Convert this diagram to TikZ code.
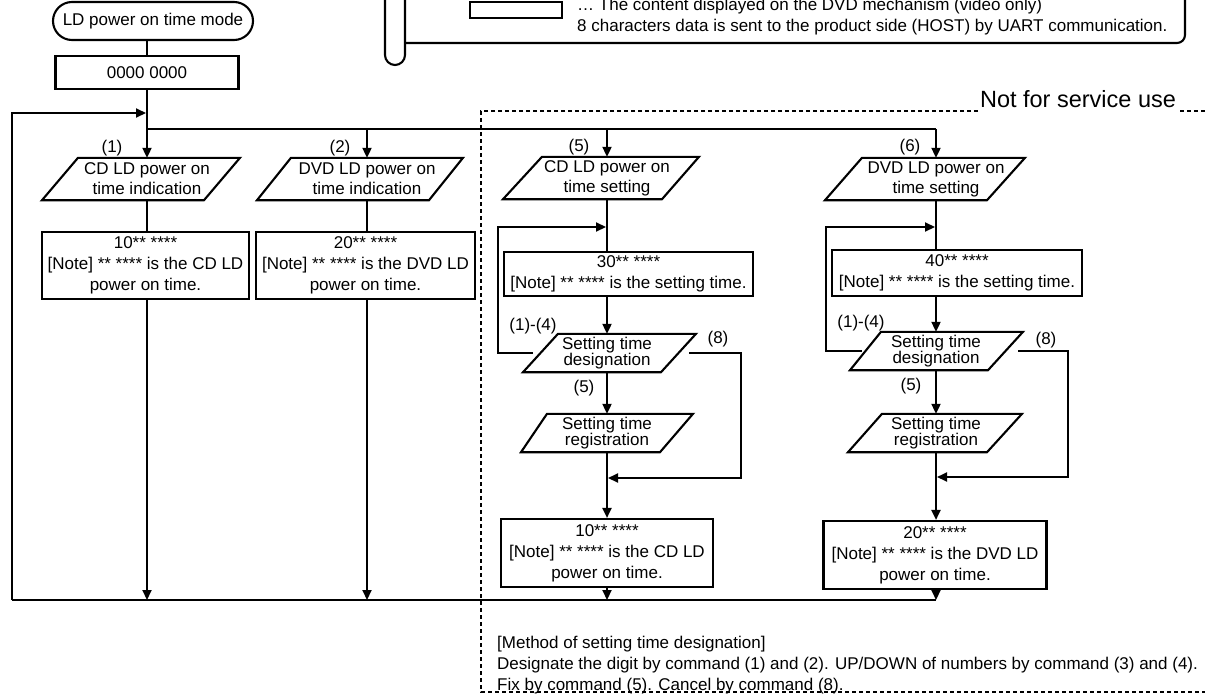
\documentclass[tikz,border=0pt]{standalone}
\usepackage{fontspec}
\setmainfont{Liberation Sans}
\usetikzlibrary{arrows.meta}
\begin{document}
\begin{tikzpicture}[x=1pt,y=-1pt,
  every node/.style={font=\fontsize{17}{21}\selectfont, inner sep=0pt},
  ln/.style={line width=2.1pt},
  arr/.style={line width=2.1pt,-{Triangle[length=10pt,width=9pt]}},
  box/.style={draw,line width=2.1pt,align=center},
  txt/.style={align=center,font=\fontsize{17}{20}\selectfont},
  txts/.style={align=center,font=\fontsize{17}{16}\selectfont},
  para/.style={line width=2.1pt},
  dsh/.style={line width=2.2pt,dash pattern=on 4pt off 3pt},
]
\useasboundingbox (0,0) rectangle (1205,696);
\clip (0,0) rectangle (1205,696);

% ---- legend frame (top, cropped) ----
\draw[ln] (385,-10) [rounded corners=10pt] -- (385,65) -- (405,65) [sharp corners] -- (405,-10);
\draw[ln, rounded corners=8pt] (405,43) -- (1185,43) -- (1185,-10);
\draw[ln] (470,2) rectangle (562,18);
\node[anchor=base west] (lg1) at (577,10) {\ldots\ The content displayed on the DVD mechanism (video only)};
\node[anchor=base west] (lg2) at (577,31) {8 characters data is sent to the product side (HOST) by UART communication.};

% ---- top nodes ----
\node[box, rounded corners=19pt, minimum width=200pt, minimum height=38pt] (start) at (153,21) {LD power on time mode};
\node[box, minimum width=183pt, minimum height=33pt] (b0) at (147,72.5) {0000 0000};

% ---- columns 1,2 ----
\node[txt, minimum height=42pt] (p1) at (147,179) {CD LD power on\\time indication};
\draw[para] ([xshift=-69pt]p1.north) -- ([xshift=93pt]p1.north) -- ([xshift=57pt]p1.south) -- ([xshift=-105pt]p1.south) -- cycle;
\node[txt, minimum height=42pt] (p2) at (367,179) {DVD LD power on\\time indication};
\draw[para] ([xshift=-76pt]p2.north) -- ([xshift=96pt]p2.north) -- ([xshift=62pt]p2.south) -- ([xshift=-110pt]p2.south) -- cycle;

\node[box, minimum width=207pt, minimum height=67pt] (box1) at (145.5,265.5) {10** ****\\{}[Note] ** **** is the CD LD\\power on time.};
\node[box, minimum width=219pt, minimum height=67pt] (box2) at (365.5,265.5) {20** ****\\{}[Note] ** **** is the DVD LD\\power on time.};

% ---- columns 3,4 ----
\node[txt, minimum height=42pt] (p5) at (607,178) {CD LD power on\\time setting};
\draw[para] ([xshift=-65pt]p5.north) -- ([xshift=92pt]p5.north) -- ([xshift=55pt]p5.south) -- ([xshift=-104pt]p5.south) -- cycle;
\node[txt, minimum height=42pt] (p6) at (936,179) {DVD LD power on\\time setting};
\draw[para] ([xshift=-74pt]p6.north) -- ([xshift=89pt]p6.north) -- ([xshift=51pt]p6.south) -- ([xshift=-111pt]p6.south) -- cycle;

\node[box, minimum width=249pt, minimum height=44pt] (box30) at (628.5,274) {30** ****\\{}[Note] ** **** is the setting time.};
\node[box, minimum width=250pt, minimum height=46pt] (box40) at (957,273) {40** ****\\{}[Note] ** **** is the setting time.};

\node[txts, minimum height=38pt] (d3) at (607,353) {Setting time\\designation};
\draw[para] ([xshift=-49pt]d3.north) -- ([xshift=89pt]d3.north) -- ([xshift=54pt]d3.south) -- ([xshift=-84pt]d3.south) -- cycle;
\node[txts, minimum height=38pt] (d4) at (936,351) {Setting time\\designation};
\draw[para] ([xshift=-55pt]d4.north) -- ([xshift=87pt]d4.north) -- ([xshift=52pt]d4.south) -- ([xshift=-86pt]d4.south) -- cycle;

\node[txts, minimum height=38pt] (r3) at (607,433) {Setting time\\registration};
\draw[para] ([xshift=-60pt]r3.north) -- ([xshift=86pt]r3.north) -- ([xshift=53pt]r3.south) -- ([xshift=-86pt]r3.south) -- cycle;
\node[txts, minimum height=38pt] (r4) at (936,433) {Setting time\\registration};
\draw[para] ([xshift=-54pt]r4.north) -- ([xshift=86pt]r4.north) -- ([xshift=51pt]r4.south) -- ([xshift=-88pt]r4.south) -- cycle;

\node[box, minimum width=212pt, minimum height=68pt] (box10c) at (607,553) {10** ****\\{}[Note] ** **** is the CD LD\\power on time.};
\node[box, minimum width=223pt, minimum height=68pt] (box20c) at (935,555) {20** ****\\{}[Note] ** **** is the DVD LD\\power on time.};

% ---- labels ----
\node (l1) at (112,148) {(1)};
\node (l2) at (340,148) {(2)};
\node (l5) at (579,147) {(5)};
\node (l6) at (910,147) {(6)};
\node (l14a) at (533,326) {(1)-(4)};
\node (l14b) at (861,323) {(1)-(4)};
\node (l8a) at (718,339) {(8)};
\node (l8b) at (1046,340) {(8)};
\node (l5a) at (584,388) {(5)};
\node (l5b) at (911,386) {(5)};

% ---- connectors ----
\coordinate (brL) at (147,129);
\coordinate (brR) at (936,129);
\coordinate (lb) at (12,600);
\coordinate (rb) at (936,600);
\coordinate (lin) at (147,113);
\draw[ln] (start.south -| b0.north) -- (b0.north);
\draw[arr] (b0.south) -- (p1.north);
\draw[ln] (brL) -- (brR);
\draw[arr] (brL -| p2.north) -- (p2.north);
\draw[arr] (brL -| p5.north) -- (p5.north);
\draw[arr] (brR) -- (p6.north);
\draw[arr, shorten >=1pt] (lb) |- (lin);
\draw[ln] (lb) -- (rb);

\draw[ln] (p1.south) -- (p1.south |- box1.north);
\draw[arr] (p1.south |- box1.south) -- (p1.south |- lb);
\draw[ln] (p2.south) -- (p2.south |- box2.north);
\draw[arr] (p2.south |- box2.south) -- (p2.south |- lb);

\draw[ln] (p5.south) -- (p5.south |- box30.north);
\draw[arr] (p5.south |- box30.south) -- (d3.north);
\draw[arr] (d3.south) -- (r3.north);
\draw[arr] (r3.south) -- (r3.south |- box10c.north);
\draw[arr] (r3.south |- box10c.south) -- (r3.south |- rb);
\coordinate (lp3) at (498,227);
\draw[arr, shorten >=1pt] ([xshift=-74pt]d3.center) -| (lp3) -- (lp3 -| d3.north);
\coordinate (e3) at (741,478);
\draw[arr, shorten >=1pt] ([xshift=82pt]d3.center) -| (e3) -- (e3 -| r3.south);

\draw[ln] (p6.south) -- (p6.south |- box40.north);
\draw[arr] (p6.south |- box40.south) -- (d4.north);
\draw[arr] (d4.south) -- (r4.north);
\draw[arr] (r4.south) -- (r4.south |- box20c.north);
\draw[arr] (r4.south |- box20c.south) -- (rb);
\coordinate (lp4) at (826,227);
\draw[arr, shorten >=1pt] ([xshift=-74pt]d4.center) -| (lp4) -- (lp4 -| d4.north);
\coordinate (e4) at (1068,477);
\draw[arr, shorten >=1pt] ([xshift=82pt]d4.center) -| (e4) -- (e4 -| r4.south);

% ---- dashed region ----
\draw[dsh] (978,111) -- (481,111) -- (481,692) -- (1210,692);
\draw[dsh] (1180,111) -- (1210,111);
\node[anchor=base, font=\fontsize{23.5}{28}\selectfont] (nfs) at (1078,107) {Not for service use};

\node[anchor=base west] (m1) at (497,648) {[Method of setting time designation]};
\node[anchor=base west] (m2) at (497,669) {Designate the digit by command (1) and (2). UP/DOWN of numbers by command (3) and (4).};
\node[anchor=base west] (m3) at (497,690) {Fix by command (5). Cancel by command (8).};
\end{tikzpicture}
\end{document}
